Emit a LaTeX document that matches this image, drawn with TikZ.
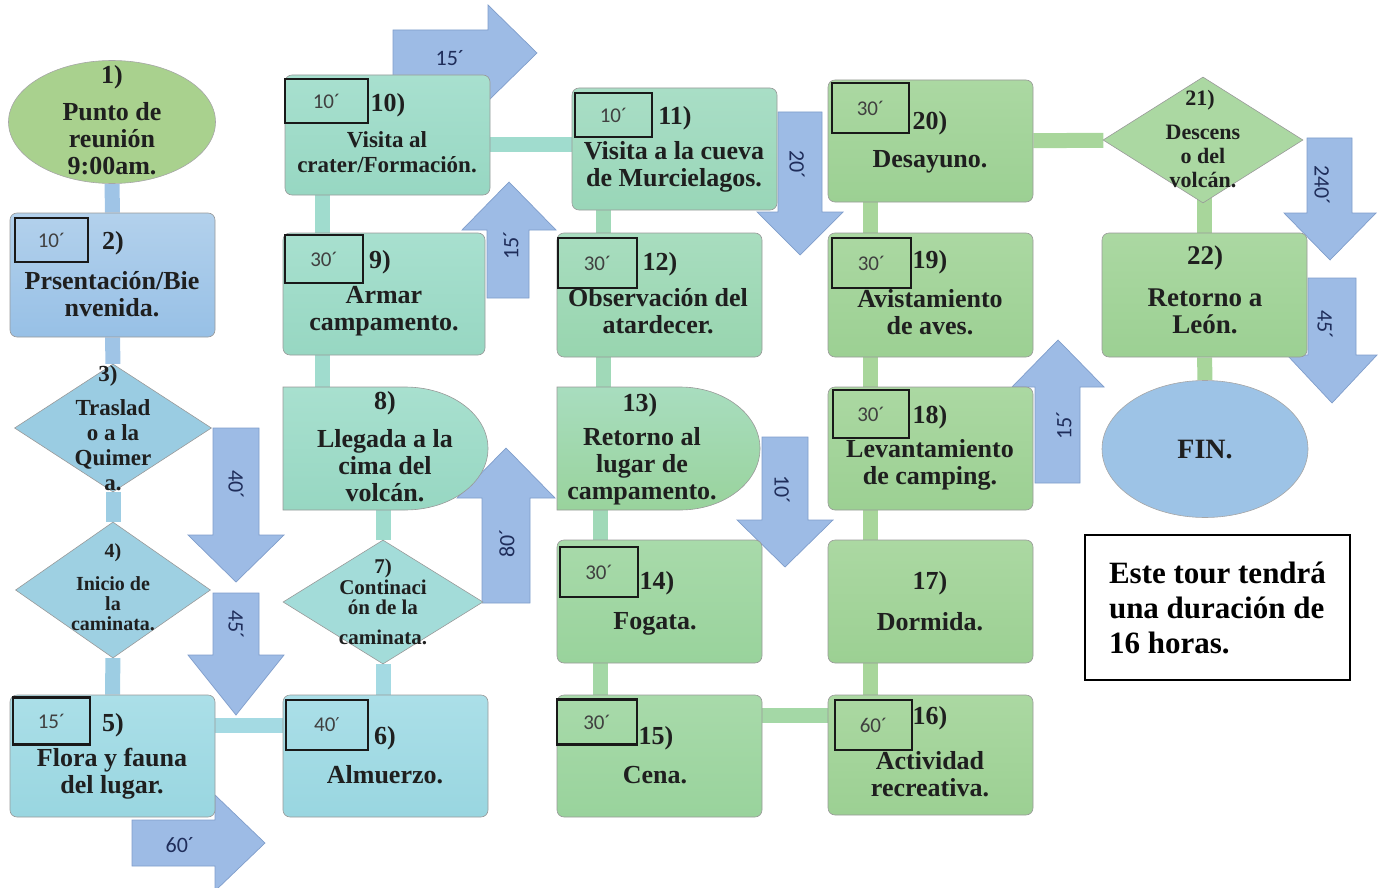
\documentclass[tikz,border=0pt]{standalone}
\usepackage{fontspec}
\setmainfont{Liberation Serif}
\newfontfamily\calfont{Carlito}
\newfontfamily\primefont{DejaVu Sans}
\usetikzlibrary{shapes.geometric,backgrounds}

% arrow colours
\definecolor{arrowfill}{HTML}{9DBBE5}
\definecolor{arrowedge}{HTML}{7F9DCB}
\definecolor{arrowtext}{HTML}{1F2D5A}
% node colours
\definecolor{startgreen}{HTML}{A9D18E}
\definecolor{blueA}{HTML}{B3D1EC}
\definecolor{blueB}{HTML}{97C0E6}
\definecolor{skyA}{HTML}{9ACCE2}
\definecolor{skyB}{HTML}{9ED0E2}
\definecolor{cyanA}{HTML}{ABDFE8}
\definecolor{cyanB}{HTML}{99D6E0}
\definecolor{tealA}{HTML}{A3DCD9}
\definecolor{mintA}{HTML}{A8E0CF}
\definecolor{mintB}{HTML}{97D7C2}
\definecolor{jadeA}{HTML}{A9DEC6}
\definecolor{jadeB}{HTML}{99D6B8}
\definecolor{seaA}{HTML}{A8DDBF}
\definecolor{seaB}{HTML}{98D5AF}
\definecolor{leafA}{HTML}{A8DAAA}
\definecolor{leafB}{HTML}{99D39C}
\definecolor{grassA}{HTML}{ABD8A2}
\definecolor{grassB}{HTML}{9CD093}
\definecolor{finblue}{HTML}{9DC3E6}
% connector colours
\definecolor{lkA}{HTML}{9FC4E6}
\definecolor{lkB}{HTML}{9DCDE3}
\definecolor{lkC}{HTML}{A4DAE3}
\definecolor{lkD}{HTML}{A0DCCE}
\definecolor{lkE}{HTML}{A0D9B8}
\definecolor{lkF}{HTML}{A4D8A6}
\definecolor{lkG}{HTML}{A8D69B}

\tikzset{
  stepbox/.style={rectangle, rounded corners=7pt, draw=black!40, line width=0.6pt,
    minimum width=205pt, minimum height=122pt, inner sep=0pt},
  decision/.style={diamond, draw=black!40, line width=0.6pt, inner sep=0pt},
  delayline/.style={draw=black!40, line width=0.6pt},
  timebox/.style={draw=black!90, line width=2.4pt, inner sep=0pt,
    font=\calfont\fontsize{21}{21}\selectfont, text=black!75},
  lbl/.style={font=\bfseries\fontsize{26}{27}\selectfont, align=center,
    inner sep=0pt, text=black!88},
  link/.style={line width=15pt},
  bigarrow/.style={fill=arrowfill, draw=arrowedge, line width=0.7pt},
  alabel/.style={font=\calfont\fontsize{22}{22}\selectfont, text=arrowtext, inner sep=0pt},
}

\begin{document}
\begin{tikzpicture}[x=1pt,y=-1pt]
    \useasboundingbox (0,0) rectangle (1387,888);

    % Column 1: start, welcome, transfer, walk, flora
    \node[ellipse, draw=black!35, line width=0.6pt, fill=startgreen,
        minimum width=207pt, minimum height=123pt] (n1) at (112,122) {};
    \node[stepbox, minimum height=124pt, top color=blueA, bottom color=blueB] (n2) at (112.5,275) {};
    \node[decision, fill=skyA, minimum width=197pt, minimum height=128pt] (n3) at (113,428) {};
    \node[decision, fill=skyB, minimum width=195pt, minimum height=136pt] (n4) at (113,590) {};
    \node[stepbox, top color=cyanA, bottom color=cyanB] (n5) at (112.5,756) {};

    % Column 2: lunch up to the crater
    \node[stepbox, top color=cyanA, bottom color=cyanB] (n6) at (385.5,756) {};
    \node[decision, fill=tealA, minimum width=200pt, minimum height=124pt] (n7) at (383,602) {};
    \draw[delayline, top color=mintA, bottom color=mintB] (283,387) -- (405,387)
        .. controls (451,387) and (488,414.5) .. (488,448.5)
        .. controls (488,482.5) and (451,510) .. (405,510) -- (283,510) -- cycle;
    \node[minimum width=205pt, minimum height=123pt, inner sep=0pt] (n8) at (385.5,448.5) {};
    \node[stepbox, minimum width=202pt, top color=mintA, bottom color=mintB] (n9) at (384,294) {};
    \node[stepbox, minimum height=120pt, top color=mintA, bottom color=mintB] (n10) at (387.5,135) {};

    % Column 3: cave down to dinner
    \node[stepbox, top color=jadeA, bottom color=jadeB] (n11) at (674.5,149) {};
    \node[stepbox, minimum height=124pt, top color=seaA, bottom color=seaB] (n12) at (659.5,295) {};
    \draw[delayline, top color=seaA, bottom color=leafB] (557,387) -- (680,387)
        .. controls (724,387) and (760,414.5) .. (760,448.5)
        .. controls (760,482.5) and (724,510) .. (680,510) -- (557,510) -- cycle;
    \node[minimum width=203pt, minimum height=123pt, inner sep=0pt] (n13) at (658.5,448.5) {};
    \node[stepbox, minimum height=123pt, top color=leafA, bottom color=leafB] (n14) at (659.5,601.5) {};
    \node[stepbox, top color=leafA, bottom color=leafB] (n15) at (659.5,756) {};

    % Column 4: activity up to breakfast
    \node[stepbox, minimum height=120pt, top color=grassA, bottom color=grassB] (n16) at (930.5,755) {};
    \node[stepbox, minimum height=123pt, top color=grassA, bottom color=grassB] (n17) at (930.5,601.5) {};
    \node[stepbox, minimum height=123pt, top color=grassA, bottom color=grassB] (n18) at (930.5,448.5) {};
    \node[stepbox, minimum height=124pt, top color=grassA, bottom color=grassB] (n19) at (930.5,295) {};
    \node[stepbox, top color=grassA, bottom color=grassB] (n20) at (930.5,141) {};

    % Column 5: descent, return, end
    \node[decision, fill=grassA, minimum width=200pt, minimum height=126pt] (n21) at (1203,140) {};
    \node[stepbox, minimum height=124pt, top color=grassA, bottom color=grassB] (n22) at (1204.5,295) {};
    \node[ellipse, draw=black!35, line width=0.6pt, fill=finblue,
        minimum width=206pt, minimum height=137pt] (fin) at (1205,449) {};

    % Duration boxes
    \node[timebox, minimum width=73pt, minimum height=44pt] (d2) at (51.5,240) {10´};
    \node[timebox, minimum width=77pt, minimum height=47pt] (d5) at (51.5,721) {15´};
    \node[timebox, minimum width=82pt, minimum height=50pt] (d6) at (327,725) {40{\primefont\fontsize{19}{19}\selectfont ′}};
    \node[timebox, minimum width=78pt, minimum height=48pt] (d9) at (324,259) {30´};
    \node[timebox, minimum width=83pt, minimum height=44pt] (d10) at (326.5,101) {10´};
    \node[timebox, minimum width=77pt, minimum height=44pt] (d11) at (613.5,115) {10´};
    \node[timebox, minimum width=79pt, minimum height=50pt] (d12) at (597.5,263) {30´};
    \node[timebox, minimum width=78pt, minimum height=50pt] (d14) at (599,572) {30´};
    \node[timebox, minimum width=80pt, minimum height=45pt] (d15) at (597,722) {30´};
    \node[timebox, minimum width=77pt, minimum height=50pt] (d16) at (873.5,725) {60´};
    \node[timebox, minimum width=76pt, minimum height=48pt] (d18) at (871,414) {30´};
    \node[timebox, minimum width=79pt, minimum height=50pt] (d19) at (871.5,263) {30´};
    \node[timebox, minimum width=77pt, minimum height=50pt] (d20) at (870.5,108) {30´};

    % Step texts
    \node[lbl] (t1n) at (112,77) {1)};
    \node[lbl] (t1) at (112,139) {Punto de\\reunión\\9:00am.};
    \node[lbl] (t2n) at (113,243) {2)};
    \node[lbl] (t2) at (112,294) {Prsentación/Bie\\nvenida.};
    \node[lbl, font=\bfseries\fontsize{23}{25}\selectfont] (t3n) at (108,376) {3)};
    \node[lbl, font=\bfseries\fontsize{23}{25}\selectfont] (t3) at (113,445) {Traslad\\o a la\\Quimer\\a.};
    \node[lbl, font=\bfseries\fontsize{20}{20}\selectfont] (t4n) at (113,553) {4)};
    \node[lbl, font=\bfseries\fontsize{20}{20}\selectfont] (t4) at (113,604) {Inicio de\\la\\caminata.};
    \node[lbl] (t5n) at (113,725) {5)};
    \node[lbl] (t5) at (112,774) {Flora y fauna\\del lugar.};
    \node[lbl] (t6n) at (385,738) {6)};
    \node[lbl] (t6) at (385,775) {Almuerzo.};
    \node[lbl, font=\bfseries\fontsize{21}{20.5}\selectfont] (t7) at (383,602) {7)\\Continaci\\ón de la\\[9pt]caminata.};
    \node[lbl] (t8n) at (385,403) {8)};
    \node[lbl] (t8) at (385,466) {Llegada a la\\cima del\\volcán.};
    \node[lbl] (t9n) at (380,262) {9)};
    \node[lbl] (t9) at (384,311) {Armar\\campamento.};
    \node[lbl] (t10n) at (388,105) {10)};
    \node[lbl, font=\bfseries\fontsize{23}{25}\selectfont] (t10) at (387,152.5) {Visita al\\crater/Formación.};
    \node[lbl] (t11n) at (675,118) {11)};
    \node[lbl] (t11) at (674,167) {Visita a la cueva\\de Murcielagos.};
    \node[lbl] (t12n) at (660,264) {12)};
    \node[lbl] (t12) at (658,311.5) {Observación del\\atardecer.};
    \node[lbl] (t13n) at (640,405) {13)};
    \node[lbl] (t13) at (642,466) {Retorno al\\lugar de\\campamento.};
    \node[lbl] (t14n) at (657,583) {14)};
    \node[lbl] (t14) at (655,624) {Fogata.};
    \node[lbl] (t15n) at (656,738) {15)};
    \node[lbl] (t15) at (655,775) {Cena.};
    \node[lbl] (t16n) at (930,718) {16)};
    \node[lbl] (t16) at (930,774) {Actividad\\recreativa.};
    \node[lbl] (t17n) at (930,583) {17)};
    \node[lbl] (t17) at (930,622) {Dormida.};
    \node[lbl] (t18n) at (930,417) {18)};
    \node[lbl] (t18) at (930,465) {Levantamiento\\de camping.};
    \node[lbl] (t19n) at (930,262) {19)};
    \node[lbl] (t19) at (930,312) {Avistamiento\\de aves.};
    \node[lbl] (t20n) at (930,123) {20)};
    \node[lbl] (t20) at (930,162) {Desayuno.};
    \node[lbl, font=\bfseries\fontsize{22}{24}\selectfont] (t21n) at (1200,100) {21)};
    \node[lbl, font=\bfseries\fontsize{22}{24}\selectfont] (t21) at (1203,156) {Descens\\o del\\volcán.};
    \node[lbl, font=\bfseries\fontsize{27}{27}\selectfont] (t22n) at (1205,258) {22)};
    \node[lbl, font=\bfseries\fontsize{27}{27}\selectfont] (t22) at (1205,311.5) {Retorno a\\León.};
    \node[lbl, font=\bfseries\fontsize{28}{28}\selectfont] (tfin) at (1205,450) {FIN.};

    % Note on total duration
    \node[draw=black, line width=1.6pt, minimum width=265pt, minimum height=145pt,
        align=left, font=\bfseries\fontsize{31}{35}\selectfont, text=black]
        (note) at (1217.5,607.5) {Este tour tendrá\\una duración de\\16 horas.};

    \begin{pgfonlayer}{background}
        % Connectors between the steps
        \draw[link, lkA] (n1) -- (n2);
        \draw[link, lkA] (n2) -- (n3);
        \draw[link, lkB] (n3) -- (n4);
        \draw[link, lkB] (n4) -- (n5);
        \draw[link, lkC] ([yshift=31pt]n5.center) -- ([yshift=31pt]n6.center);
        \draw[link, lkC] (n7 |- n6) -- (n7);
        \draw[link, lkD] (n7) -- (n7 |- n8);
        \draw[link, lkD] ([xshift=-63.5pt]n8.center) -- ([xshift=-62pt]n9.center);
        \draw[link, lkD] ([xshift=-62pt]n9.center) -- ([xshift=-65.5pt]n10.center);
        \draw[link, lkD] ([yshift=-10pt]n10.center) -- ([yshift=4pt]n11.center);
        \draw[link, lkE] ([xshift=-71.5pt]n11.center) -- ([xshift=-56.5pt]n12.center);
        \draw[link, lkE] ([xshift=-56.5pt]n12.center) -- ([xshift=-55.5pt]n13.center);
        \draw[link, lkE] ([xshift=-58.5pt]n13.center) -- ([xshift=-59.5pt]n14.center);
        \draw[link, lkF] ([xshift=-59.5pt]n14.center) -- ([xshift=-59.5pt]n15.center);
        \draw[link, lkF] ([yshift=41pt]n15.center) -- ([yshift=40pt]n16.center);
        \draw[link, lkG] ([xshift=-60.5pt]n16.center) -- ([xshift=-60.5pt]n17.center);
        \draw[link, lkG] ([xshift=-60.5pt]n17.center) -- ([xshift=-60.5pt]n18.center);
        \draw[link, lkG] ([xshift=-60.5pt]n18.center) -- ([xshift=-60.5pt]n19.center);
        \draw[link, lkG] ([xshift=-60.5pt]n19.center) -- ([xshift=-60.5pt]n20.center);
        \draw[link, lkG] (n20) -- (n21);
        \draw[link, lkG] (n22 |- n21) -- (n22);
        \draw[link, lkG] (n22) -- (fin);

        % Travel time arrows
        \draw[bigarrow] (213,428) -- (259,428) -- (259,535) -- (284,535) -- (236,582) -- (188,535) -- (213,535) -- cycle;
        \node[alabel, rotate=-90] (a40) at (236,485) {40´};
        \draw[bigarrow] (213,593) -- (259,593) -- (259,655) -- (284,655) -- (236,715) -- (188,655) -- (213,655) -- cycle;
        \node[alabel, rotate=-90] (a45) at (236,625) {45´};
        \draw[bigarrow] (132,820) -- (215,820) -- (215,795) -- (265,843) -- (215,891) -- (215,866) -- (132,866) -- cycle;
        \node[alabel] (a60) at (180,845) {60´};
        \draw[bigarrow] (482,603) -- (530,603) -- (530,498) -- (555,498) -- (506,448) -- (457,498) -- (482,498) -- cycle;
        \node[alabel, rotate=90] (a80) at (507,543) {80´};
        \draw[bigarrow] (393,30) -- (488,30) -- (488,5) -- (537,53) -- (488,101) -- (488,77) -- (393,77) -- cycle;
        \node[alabel] (a15a) at (450,58) {15´};
        \draw[bigarrow] (487,298) -- (529,298) -- (529,230) -- (556,230) -- (509,182) -- (462,230) -- (487,230) -- cycle;
        \node[alabel, rotate=90] (a15b) at (511,245) {15´};
        \draw[bigarrow] (778,112) -- (822,112) -- (822,212) -- (843,212) -- (800,255) -- (757,212) -- (778,212) -- cycle;
        \node[alabel, rotate=-90] (a20) at (797,165) {20´};
        \draw[bigarrow] (762,437) -- (808,437) -- (808,520) -- (833,520) -- (785,567) -- (737,520) -- (762,520) -- cycle;
        \node[alabel, rotate=-90] (a10) at (782,490) {10´};
        \draw[bigarrow] (1035,483) -- (1080,483) -- (1080,387) -- (1104,387) -- (1058,340) -- (1012,387) -- (1035,387) -- cycle;
        \node[alabel, rotate=90] (a15c) at (1064,425) {15´};
        \draw[bigarrow] (1307,138) -- (1352,138) -- (1352,213) -- (1376,213) -- (1330,260) -- (1284,213) -- (1307,213) -- cycle;
        \node[alabel, rotate=-90] (a240) at (1322,185) {240´};
        \draw[bigarrow] (1308,278) -- (1356,278) -- (1356,355) -- (1377,355) -- (1332,403) -- (1287,355) -- (1308,355) -- cycle;
        \node[alabel, rotate=-90] (a45b) at (1325,325) {45´};
    \end{pgfonlayer}
\end{tikzpicture}
\end{document}
